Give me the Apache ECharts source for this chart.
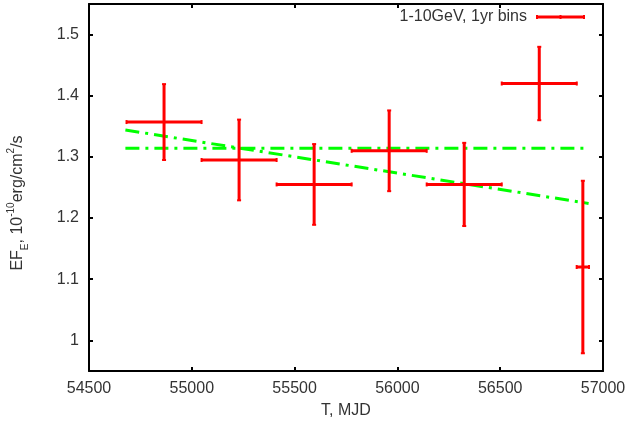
<!DOCTYPE html>
<html>
<head>
<meta charset="utf-8">
<script src="https://cdn.jsdelivr.net/npm/echarts@6/dist/echarts.min.js"></script>
<style>
  html, body { margin: 0; padding: 0; background: #fff; }
  #chart { width: 630px; height: 425px; }
</style>
</head>
<body>
<div id="chart"></div>
<script>
// 1-10 GeV light curve, one-year bins (last bin is a partial one)
const binCenter = [54865, 55230, 55595, 55960, 56325, 56690, 56902];
const binHalfWidth = [182.5, 182.5, 182.5, 182.5, 182.5, 182.5, 30];
const flux = [1.357, 1.295, 1.255, 1.310, 1.255, 1.420, 1.120];
const fluxErr = [0.062, 0.066, 0.066, 0.066, 0.068, 0.060, 0.141];

// constant and linear fits over the observed span
const fitX = [54677, 56930];
const constFit = [1.314, 1.314];
const linearFit = [1.344, 1.224];

const xTicks = [54500, 55000, 55500, 56000, 56500, 57000];
const yTicks = [1, 1.1, 1.2, 1.3, 1.4, 1.5];

const FONT = "'Liberation Sans', Arial, Helvetica, sans-serif";
const RED = '#ff0000';
const GREEN = '#00ff00';
const TEXT = '#333333';

const errData = binCenter.map((x, i) => [x, binHalfWidth[i], flux[i], fluxErr[i]]);

function renderErr(params, api) {
  const x = api.value(0), hw = api.value(1), y = api.value(2), e = api.value(3);
  const l = api.coord([x - hw, y]);
  const r = api.coord([x + hw, y]);
  const t = api.coord([x, y + e]);
  const b = api.coord([x, y - e]);
  const bar = { stroke: RED, lineWidth: 3 };
  const cap = { stroke: RED, lineWidth: 2 };
  const c = 2;
  return {
    type: 'group',
    children: [
      { type: 'line', shape: { x1: l[0], y1: l[1], x2: r[0], y2: r[1] }, style: bar },
      { type: 'line', shape: { x1: t[0], y1: t[1], x2: b[0], y2: b[1] }, style: bar },
      { type: 'line', shape: { x1: l[0], y1: l[1] - c, x2: l[0], y2: l[1] + c }, style: cap },
      { type: 'line', shape: { x1: r[0], y1: r[1] - c, x2: r[0], y2: r[1] + c }, style: cap },
      { type: 'line', shape: { x1: t[0] - c, y1: t[1], x2: t[0] + c, y2: t[1] }, style: cap },
      { type: 'line', shape: { x1: b[0] - c, y1: b[1], x2: b[0] + c, y2: b[1] }, style: cap }
    ]
  };
}

const axisLine = { show: true, lineStyle: { color: '#000', width: 2 } };
const axisTick = { show: true, inside: true, length: 4, lineStyle: { color: '#000', width: 2 } };
const labelStyle = { color: TEXT, fontFamily: FONT, fontSize: 16 };

const chart = echarts.init(document.getElementById('chart'), null, { renderer: 'canvas' });

chart.setOption({
  animation: false,
  backgroundColor: '#fff',
  grid: { left: 89, right: 27, top: 4, bottom: 54, containLabel: false },
  xAxis: [
    {
      type: 'value', position: 'bottom', min: xTicks[0], max: xTicks[xTicks.length - 1], interval: 500,
      axisLine, axisTick, splitLine: { show: false },
      axisLabel: Object.assign({ margin: 10, formatter: v => String(v) }, labelStyle),
      name: 'T, MJD', nameLocation: 'middle', nameGap: 32,
      nameTextStyle: labelStyle
    },
    {
      type: 'value', position: 'top', min: xTicks[0], max: xTicks[xTicks.length - 1], interval: 500,
      axisLine, axisTick, splitLine: { show: false }, axisLabel: { show: false }
    }
  ],
  yAxis: [
    {
      type: 'value', position: 'left', min: 0.95, max: 1.55,
      axisLine, splitLine: { show: false },
      axisLabel: Object.assign({
        margin: 10,
        customValues: yTicks,
        formatter: v => String(+v.toFixed(2))
      }, labelStyle),
      axisTick: Object.assign({ customValues: yTicks }, axisTick)
    },
    {
      type: 'value', position: 'right', min: 0.95, max: 1.55,
      axisLine, splitLine: { show: false }, axisLabel: { show: false },
      axisTick: Object.assign({ customValues: yTicks }, axisTick)
    }
  ],
  graphic: [
    {
      type: 'text',
      x: 18, y: 203,
      rotation: Math.PI / 2,
      style: {
        text: '{m|EF}{sub|E}{m|, 10}{sup|-10}{m|erg/cm}{sup|2}{m|/s}',
        align: 'center',
        verticalAlign: 'middle',
        fill: TEXT,
        rich: {
          m: { fontFamily: FONT, fontSize: 16, lineHeight: 24, verticalAlign: 'middle', fill: TEXT },
          sub: { fontFamily: FONT, fontSize: 10, lineHeight: 10, verticalAlign: 'bottom', fill: TEXT },
          sup: { fontFamily: FONT, fontSize: 10, lineHeight: 10, verticalAlign: 'top', fill: TEXT }
        }
      }
    },
    {
      type: 'group',
      children: [
        {
          type: 'text', x: 527, y: 17,
          style: { text: '1-10GeV, 1yr bins', align: 'right', verticalAlign: 'middle',
                   fill: TEXT, fontFamily: FONT, fontSize: 16 }
        },
        { type: 'line', shape: { x1: 537, y1: 17, x2: 584, y2: 17 }, style: { stroke: RED, lineWidth: 3 } },
        { type: 'line', shape: { x1: 537, y1: 15, x2: 537, y2: 19 }, style: { stroke: RED, lineWidth: 2 } },
        { type: 'line', shape: { x1: 560.5, y1: 15, x2: 560.5, y2: 19 }, style: { stroke: RED, lineWidth: 2 } },
        { type: 'line', shape: { x1: 584, y1: 15, x2: 584, y2: 19 }, style: { stroke: RED, lineWidth: 2 } }
      ]
    }
  ],
  series: [
    {
      name: 'constant fit', type: 'line', xAxisIndex: 0, yAxisIndex: 0,
      data: fitX.map((x, i) => [x, constFit[i]]),
      symbol: 'none', silent: true, z: 3,
      lineStyle: { color: GREEN, width: 3, type: [14, 6, 3, 6], cap: 'butt' }
    },
    {
      name: 'linear fit', type: 'line', xAxisIndex: 0, yAxisIndex: 0,
      data: fitX.map((x, i) => [x, linearFit[i]]),
      symbol: 'none', silent: true, z: 3,
      lineStyle: { color: GREEN, width: 3, type: [14, 6, 3, 6], cap: 'butt' }
    },
    {
      name: '1-10GeV, 1yr bins', type: 'custom', xAxisIndex: 0, yAxisIndex: 0,
      data: errData, renderItem: renderErr, z: 4, silent: true,
      encode: { x: 0, y: 2 }
    }
  ]
});
</script>
</body>
</html>
